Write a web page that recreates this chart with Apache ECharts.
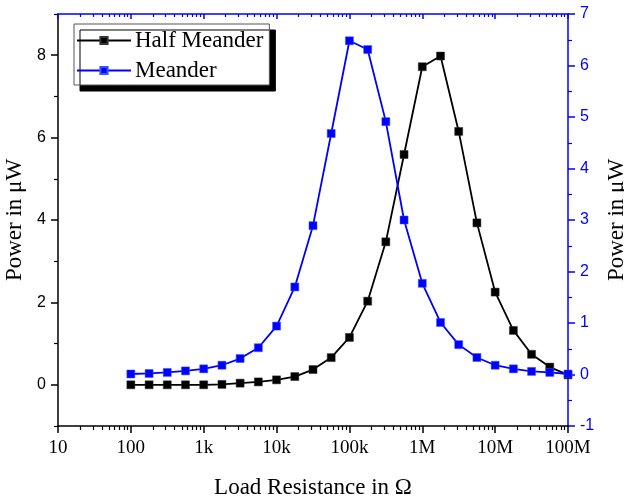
<!DOCTYPE html>
<html>
<head>
<meta charset="utf-8">
<script src="https://cdn.jsdelivr.net/npm/echarts@6/dist/echarts.min.js"></script>
<style>
  html, body { margin: 0; background: #fff; }
  #chart { width: 624px; height: 501px; }
</style>
</head>
<body>
<div id="chart"></div>
<script>
// load resistance (ohm), quarter-decade steps
const resistance = [100, 178, 316, 562, 1e3, 1780, 3160, 5620, 1e4, 17800, 31600, 56200,
  1e5, 178000, 316000, 562000, 1e6, 1.78e6, 3.16e6, 5.62e6, 1e7, 1.78e7, 3.16e7, 5.62e7, 1e8];
// power in uW
const halfMeander = [0, 0, 0, 0, 0, 0.01, 0.04, 0.07, 0.12, 0.2, 0.37, 0.66,
  1.15, 2.03, 3.47, 5.59, 7.72, 7.98, 6.15, 3.93, 2.25, 1.32, 0.74, 0.43, 0.24];
const meander = [0.01, 0.02, 0.04, 0.07, 0.11, 0.18, 0.31, 0.52, 0.94, 1.7, 2.89, 4.68,
  6.48, 6.31, 4.91, 3.0, 1.77, 1.01, 0.58, 0.33, 0.18, 0.11, 0.06, 0.04, 0.01];

const xTicks = [10, 100, 1e3, 1e4, 1e5, 1e6, 1e7, 1e8];
const xTickNames = ["10", "100", "1k", "10k", "100k", "1M", "10M", "100M"];
const leftTicks = [0, 2, 4, 6, 8];
const leftMinor = [-1, 1, 3, 5, 7, 9];

const xMinor = [];
xTicks.slice(0, -1).forEach((d) => { for (let m = 2; m <= 9; m++) xMinor.push(m * d); });

const BLUE = "#0000ff";
const serif = "Liberation Serif";
const sans = "Liberation Sans";

const xBase = { type: "log", logBase: 10, min: 10, max: 1e8, gridIndex: 0, splitLine: { show: false } };

const chart = echarts.init(document.getElementById("chart"));
chart.setOption({
  animation: false,
  backgroundColor: "#fff",
  grid: { left: 58, right: 56, top: 14, bottom: 75, containLabel: false, outerBoundsMode: "none" },
  legend: {
    orient: "vertical", left: 74, top: 24,
    padding: [5, 6, 3, 2], itemGap: 7,
    itemWidth: 54, itemHeight: 9,
    backgroundColor: "#fff", borderColor: "#555", borderWidth: 1,
    shadowColor: "#000", shadowBlur: 0, shadowOffsetX: 6, shadowOffsetY: 6,
    textStyle: { fontFamily: serif, fontSize: 23, color: "#000", padding: [0, 0, 0, -1] },
    data: ["Half Meander", "Meander"]
  },
  xAxis: [
    {
      ...xBase, position: "bottom",
      name: "Load Resistance in Ω", nameLocation: "middle", nameGap: 50,
      nameTextStyle: { fontFamily: serif, fontSize: 23, color: "#000" },
      axisLine: { onZero: false, lineStyle: { color: "#000", width: 1.5 } },
      axisTick: { inside: false, length: 7, customValues: xTicks, lineStyle: { color: "#000", width: 1.5 } },
      axisLabel: {
        customValues: xTicks, margin: 13, fontFamily: serif, fontSize: 19, color: "#000",
        formatter: (v) => xTickNames[Math.round(Math.log10(v)) - 1]
      }
    },
    {
      ...xBase, position: "bottom",
      axisLine: { show: false, onZero: false },
      axisTick: { inside: false, length: 4, customValues: xMinor, lineStyle: { color: "#000", width: 1.2 } },
      axisLabel: { show: false }
    },
    {
      ...xBase, position: "top",
      axisLine: { show: true, onZero: false, lineStyle: { color: BLUE, width: 1.5 } },
      axisTick: { inside: true, length: 5, customValues: xTicks, lineStyle: { color: BLUE, width: 1.5 } },
      axisLabel: { show: false }
    },
    {
      ...xBase, position: "top",
      axisLine: { show: false, onZero: false },
      axisTick: { inside: true, length: 3, customValues: xMinor, lineStyle: { color: BLUE, width: 1.2 } },
      axisLabel: { show: false }
    }
  ],
  yAxis: [
    {
      type: "value", position: "left", min: -1, max: 9,
      name: "Power in μW", nameLocation: "middle", nameGap: 31,
      nameTextStyle: { fontFamily: serif, fontSize: 23, color: "#000" },
      splitLine: { show: false },
      axisLine: { show: true, onZero: false, lineStyle: { color: "#000", width: 1.5 } },
      axisTick: { show: true, length: 7, customValues: leftTicks, lineStyle: { color: "#000", width: 1.5 } },
      axisLabel: { customValues: leftTicks, margin: 12, fontFamily: sans, fontSize: 16, color: "#000" }
    },
    {
      type: "value", position: "right", min: -1, max: 7, interval: 1,
      name: "Power in μW", nameLocation: "middle", nameGap: 36,
      nameTextStyle: { fontFamily: serif, fontSize: 23, color: "#000" },
      splitLine: { show: false },
      axisLine: { show: true, onZero: false, lineStyle: { color: BLUE, width: 1.5 } },
      axisTick: { show: true, length: 7, lineStyle: { color: BLUE, width: 1.5 } },
      minorTick: { show: true, splitNumber: 2, length: 4, lineStyle: { color: BLUE, width: 1.2 } },
      axisLabel: { margin: 12, fontFamily: sans, fontSize: 16, color: BLUE }
    },
    {
      type: "value", position: "left", min: -1, max: 9,
      splitLine: { show: false },
      axisLine: { show: false, onZero: false },
      axisTick: { show: true, length: 4, customValues: leftMinor, lineStyle: { color: "#000", width: 1.2 } },
      axisLabel: { show: false }
    }
  ],
  series: [
    {
      name: "Half Meander", type: "line", xAxisIndex: 0, yAxisIndex: 0,
      data: resistance.map((r, i) => [r, halfMeander[i]]),
      symbol: "rect", symbolSize: 8,
      lineStyle: { color: "#000", width: 1.8 },
      itemStyle: { color: "#000", borderColor: "#333", borderWidth: 0.5 }
    },
    {
      name: "Meander", type: "line", xAxisIndex: 0, yAxisIndex: 1,
      data: resistance.map((r, i) => [r, meander[i]]),
      symbol: "rect", symbolSize: 8,
      lineStyle: { color: BLUE, width: 1.8 },
      itemStyle: { color: BLUE, borderColor: "#3355ff", borderWidth: 0.5 }
    }
  ]
});
</script>
</body>
</html>
